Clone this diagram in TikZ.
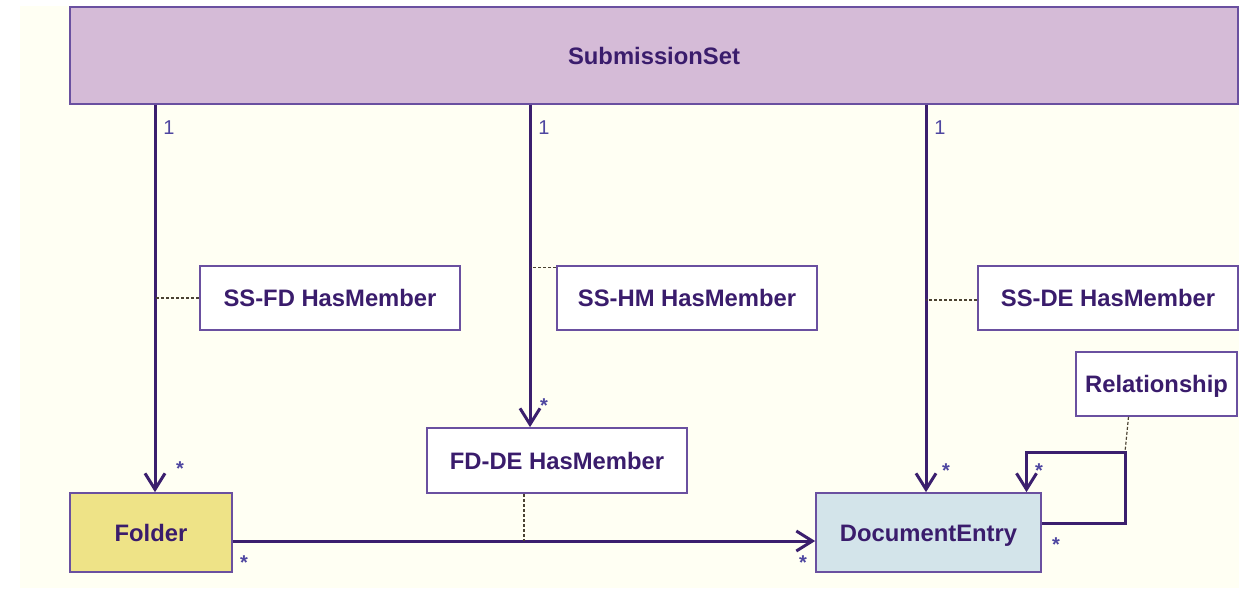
\documentclass[tikz,border=0pt]{standalone}
\usepackage{fontspec}
\setmainfont{Liberation Sans}
\usetikzlibrary{arrows.meta,calc,positioning}

\definecolor{cream}{HTML}{FFFFF3}
\definecolor{linepurple}{HTML}{3B1F6E}
\definecolor{boxpurple}{HTML}{6A50A0}
\definecolor{textpurple}{HTML}{3A1C6C}
\definecolor{multblue}{HTML}{4E46A0}
\definecolor{ssfill}{HTML}{D5BBD7}
\definecolor{folderfill}{HTML}{EEE387}
\definecolor{defill}{HTML}{D3E4EA}
\definecolor{dashbrown}{HTML}{4A4232}

\begin{document}
\begin{tikzpicture}[x=1pt,y=-1pt,>={Straight Barb[length=16pt,width=20pt]},
    cls/.style={draw=boxpurple,line width=1.7pt,text=textpurple,inner sep=0pt,
      text height=17pt,text depth=0pt,
      font=\bfseries\fontsize{23.8}{27}\selectfont},
    assoc/.style={->,draw=linepurple,line width=3pt},
    anchorline/.style={draw=dashbrown,line width=1.2pt,dash pattern=on 3pt off 2pt},
    one/.style={text=multblue,inner sep=0pt,font=\fontsize{20}{24}\selectfont},
    many/.style={text=multblue,inner sep=0pt,font=\bfseries\fontsize{20}{24}\selectfont}]

  % page and paper
  \fill[white] (0,0) rectangle (1239,589);
  \fill[cream] (20,6) rectangle (1239,588);

  % classes
  \node[cls,fill=ssfill,minimum width=1168pt,minimum height=97pt] (ss) at (654,55.5) {SubmissionSet};
  \node[cls,fill=folderfill,minimum width=162pt,minimum height=79pt] (folder) at (151,532.5) {Folder};
  \node[cls,fill=defill,minimum width=225pt,minimum height=79pt] (de) at (928.5,532.5) {DocumentEntry};

  % association classes
  \node[cls,fill=white,minimum width=260pt,minimum height=64pt] (ssfd) at (330,298) {SS-FD HasMember};
  \node[cls,fill=white,minimum width=260pt,minimum height=64pt] (sshm) at (687,298) {SS-HM HasMember};
  \node[cls,fill=white,minimum width=260pt,minimum height=64pt] (ssde) at (1108,298) {SS-DE HasMember};
  \node[cls,fill=white,minimum width=260pt,minimum height=65pt] (fdde) at (557,460.5) {FD-DE HasMember};
  \node[cls,fill=white,minimum width=161pt,minimum height=64pt] (rel) at (1156.5,384) {Relationship};

  \coordinate (fdin) at ([xshift=4pt]folder.north);
  \coordinate (hmin) at ([xshift=-27pt]fdde.north);
  \coordinate (dein) at ([xshift=-2.5pt]de.north);
  \coordinate (loopin) at ([xshift=98pt]de.north);
  \coordinate (loopc) at (1125,452);

  % associations
  \draw[assoc] (ss.south -| fdin) -- (fdin);
  \draw[assoc] (ss.south -| hmin) -- (hmin);
  \draw[assoc] (ss.south -| dein) -- (dein);
  \draw[assoc] ([yshift=-8.5pt]folder.east) coordinate (fdout) -- ([yshift=-8.5pt]de.west);
  \draw[assoc] ([yshift=9.5pt]de.east) -| (loopc) -| (loopin);

  % links to association classes
  \draw[anchorline] (ssfd.west) -- (ssfd.west -| fdin);
  \draw[anchorline] ([yshift=-2pt]sshm.north west) coordinate (hmk) -- (hmk -| hmin);
  \draw[anchorline] ([yshift=-2pt]ssde.west) coordinate (dek) -- (dek -| dein);
  \draw[anchorline] ([xshift=-33pt]fdde.south) coordinate (fdlink) -- (fdlink |- fdout);
  \draw[anchorline] ([xshift=-28pt]rel.south) -- (loopc);

  % multiplicities
  \node[one] (m1) at (169,128) {1};
  \node[one] (m2) at (544,128) {1};
  \node[one] (m3) at (940,128) {1};
  \node[many] (s1) at (180,469) {*};
  \node[many] (s2) at (544,406) {*};
  \node[many] (s3) at (946,471) {*};
  \node[many] (s4) at (1039,471) {*};
  \node[many] (s5) at (1056,545) {*};
  \node[many] (s6) at (244,563) {*};
  \node[many] (s7) at (803,563) {*};
\end{tikzpicture}
\end{document}
